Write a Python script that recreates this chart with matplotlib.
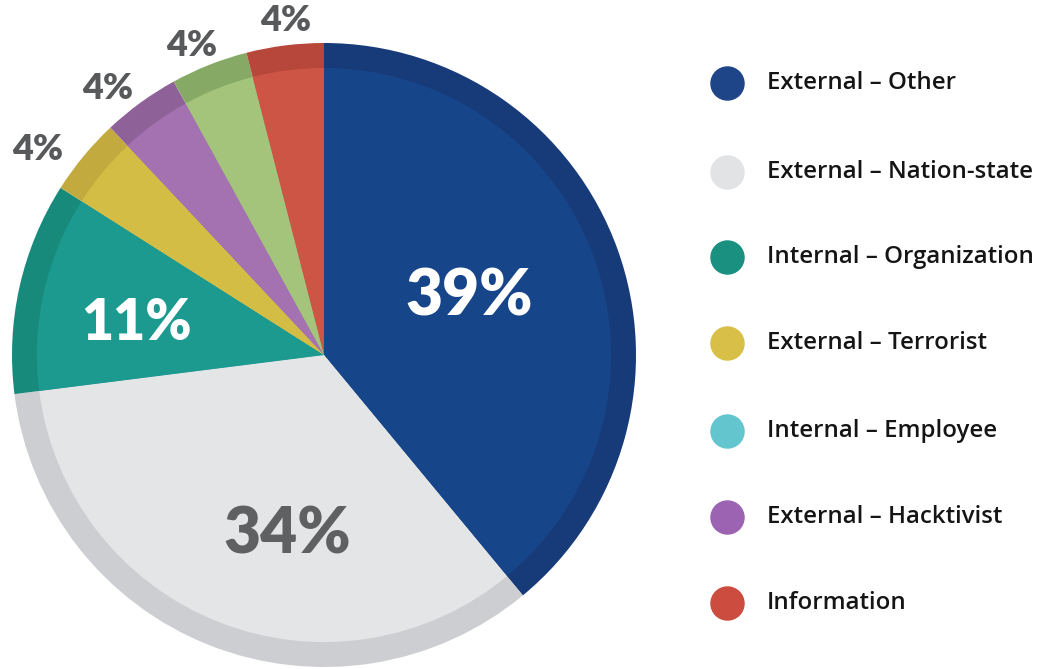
import numpy as np
import matplotlib
matplotlib.use("Agg")
import matplotlib.pyplot as plt

# Datos del grafico
categorias = ["External – Other", "External – Nation-state", "Internal – Organization",
              "External – Terrorist", "External – Hacktivist", "Internal – Employee", "Information"]
valores = [39, 34, 11, 4, 4, 4, 4]
etiquetas = ["39%", "34%", "11%", "4%", "4%", "4%", "4%"]

# Colores de las porciones (en el orden del pastel)
colores = ["#17458a", "#e4e5e7", "#1d9a90", "#d4bd45", "#a472b0", "#a3c47a", "#cc5545"]
colores_borde = ["#173a78", "#cdced1", "#178a7c", "#c2aa3e", "#8f6199", "#86aa66", "#b8473b"]

# Leyenda (orden del original)
leyenda_nombres = ["External – Other", "External – Nation-state", "Internal – Organization",
                   "External – Terrorist", "Internal – Employee", "External – Hacktivist", "Information"]
leyenda_colores = ["#1f4589", "#e2e3e5", "#1a9080", "#d8bf48", "#63c6cf", "#9b63b2", "#cc4c3f"]

plt.rcParams["font.family"] = ["Lato", "DejaVu Sans"]

W, H = 1044, 669
fig = plt.figure(figsize=(W / 100, H / 100), dpi=100)
ax = fig.add_axes([0, 0, 1, 1])

centro = (324, H - 355)
radio = 312

# Anillo exterior mas oscuro y pastel interior
ax.pie(valores, colors=colores_borde, startangle=90, counterclock=False,
       center=centro, radius=radio, frame=True)
cunas, _ = ax.pie(valores, colors=colores, startangle=90, counterclock=False,
                  center=centro, radius=radio * 0.92, frame=True)
ax.set_xlim(0, W)
ax.set_ylim(0, H)
ax.set_aspect("equal")
ax.axis("off")

# Posicion de las etiquetas: (factor de radio, ajuste de angulo, tamano, color)
estilo = [(0.50, 2, 46, "white"),
          (0.59, 10, 46, "#5f6062"),
          (0.61, 3, 40, "white"),
          (1.13, 4, 26, "#58595b"),
          (1.10, 3, 26, "#58595b"),
          (1.08, 1.5, 26, "#58595b"),
          (1.08, -0.7, 26, "#58595b")]
for w, txt, (f, da, fs, col) in zip(cunas, etiquetas, estilo):
    ang = np.deg2rad((w.theta1 + w.theta2) / 2 + da)
    x = centro[0] + f * radio * np.cos(ang)
    y = centro[1] + f * radio * np.sin(ang)
    ax.text(x, y, txt, ha="center", va="center", fontsize=fs, fontweight="heavy", color=col)

# Leyenda manual
ys = [83, 172, 257, 343, 431, 517, 603]
for nombre, col, yy in zip(leyenda_nombres, leyenda_colores, ys):
    ax.scatter(727, H - yy, s=33 ** 2 * 0.52, color=col, zorder=3)
    ax.text(767, H - yy, nombre, ha="left", va="center", fontsize=17.3,
            color="#151515", fontweight="semibold", family=["Open Sans", "DejaVu Sans"])

fig.savefig("out.png", dpi=100, facecolor="white")
